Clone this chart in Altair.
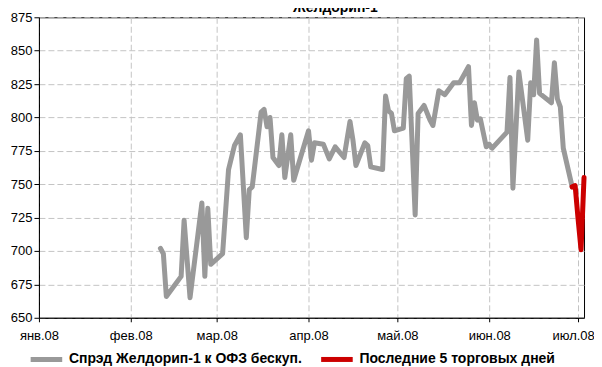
import json
import altair as alt
import pandas as pd

TITLE = "Желдорип-1"
SERIES_MAIN = "Спрэд Желдорип-1 к ОФЗ бескуп."
SERIES_LAST = "Последние 5 торговых дней"

main_dates = [
    "2008-02-11", "2008-02-12", "2008-02-13", "2008-02-18", "2008-02-19", "2008-02-21",
    "2008-02-25", "2008-02-26", "2008-02-27", "2008-02-28", "2008-03-03", "2008-03-05",
    "2008-03-07", "2008-03-09", "2008-03-11", "2008-03-12", "2008-03-13", "2008-03-16",
    "2008-03-17", "2008-03-18", "2008-03-19", "2008-03-20", "2008-03-22", "2008-03-23",
    "2008-03-24", "2008-03-26", "2008-03-27", "2008-04-01", "2008-04-02", "2008-04-03",
    "2008-04-06", "2008-04-08", "2008-04-10", "2008-04-13", "2008-04-15", "2008-04-16",
    "2008-04-17", "2008-04-20", "2008-04-21", "2008-04-22", "2008-04-26", "2008-04-27",
    "2008-04-28", "2008-04-29", "2008-04-30", "2008-05-03", "2008-05-04", "2008-05-05",
    "2008-05-07", "2008-05-08", "2008-05-10", "2008-05-12", "2008-05-13", "2008-05-15",
    "2008-05-17", "2008-05-19", "2008-05-20", "2008-05-22", "2008-05-25", "2008-05-26",
    "2008-05-27", "2008-05-28", "2008-05-29", "2008-05-31", "2008-06-01", "2008-06-02",
    "2008-06-07", "2008-06-08", "2008-06-09", "2008-06-11", "2008-06-14", "2008-06-15",
    "2008-06-16", "2008-06-17", "2008-06-18", "2008-06-22", "2008-06-23", "2008-06-24",
    "2008-06-25", "2008-06-26", "2008-06-29",
]
main_values = [
    702, 698, 666, 681, 723, 665,
    736, 681, 732, 690, 698, 761,
    779, 787, 710, 746, 748, 804,
    806, 793, 800, 770, 764, 787,
    755, 787, 753, 790, 768, 781,
    780, 769, 778, 770, 797, 783,
    764, 781, 779, 763, 761, 816,
    805, 803, 790, 792, 829, 831,
    727, 803, 809, 798, 794, 820,
    817, 823, 826, 826, 838, 794,
    811, 798, 799, 778, 780, 777,
    789, 830, 747, 834, 783, 826,
    817, 858, 818, 811, 841, 814,
    808, 777, 748,
]
last_dates = ["2008-06-29", "2008-06-30", "2008-07-01", "2008-07-02", "2008-07-03"]
last_values = [748, 749, 724, 701, 755]

month_labels = ["янв.08", "фев.08", "мар.08", "апр.08", "май.08", "июн.08", "июл.08"]
y_ticks = [650, 675, 700, 725, 750, 775, 800, 825, 850, 875]

df = pd.DataFrame({
    "date": main_dates + last_dates,
    "value": main_values + last_values,
    "series": [SERIES_MAIN] * len(main_dates) + [SERIES_LAST] * len(last_dates),
})

NARROW = "Liberation Sans Narrow, Arial Narrow, Liberation Sans, sans-serif"
BOLD = "Liberation Sans, Arial, sans-serif"

label_expr = json.dumps(month_labels, ensure_ascii=False) + "[utcmonth(datum.value)]"

x_enc = alt.X(
    "date:T",
    scale=alt.Scale(type="utc", domain=[alt.DateTime(year=2008, month=1, date=1, utc=True),
                                        alt.DateTime(year=2008, month=7, date=3, utc=True)]),
    axis=alt.Axis(
        title=None,
        values=[alt.DateTime(year=2008, month=m, date=1, utc=True) for m in range(1, 8)],
        labelExpr=label_expr,
        labelFont=NARROW, labelFontSize=13, labelColor="#000",
        labelPadding=8, tickSize=4, tickColor="#000", domainColor="#000",
        grid=True, gridColor="#c4c4c4", gridDash=[6, 3], labelOverlap=False,
        labelFlush=False,
        labelOffset={"expr": "utcmonth(datum.value) == 6 ? -5 : 0"},
    ),
)
y_enc = alt.Y(
    "value:Q",
    scale=alt.Scale(domain=[650, 875], nice=False, zero=False),
    axis=alt.Axis(
        title=None, values=y_ticks,
        labelFont=NARROW, labelFontSize=13, labelColor="#000",
        labelPadding=2, tickSize=5, tickColor="#000", domainColor="#000",
        grid=True, gridColor="#c4c4c4", gridDash=[6, 3],
    ),
)

lines = alt.Chart(df).mark_line(strokeWidth=5, strokeJoin="round", strokeCap="round").encode(
    x=x_enc,
    y=y_enc,
    color=alt.Color(
        "series:N",
        scale=alt.Scale(domain=[SERIES_MAIN, SERIES_LAST], range=["#999999", "#cc0000"]),
        legend=alt.Legend(
            title=None, orient="none", legendX=-11, legendY=324, direction="horizontal",
            symbolType="stroke", symbolSize=1000, symbolStrokeWidth=5,
            labelFont=BOLD, labelFontWeight="bold", labelFontSize=14, labelColor="#000",
            labelLimit=500, columnPadding=8, padding=0, labelOffset=4,
        ),
    ),
    detail="series:N",
)

title_df = pd.DataFrame({"t": [TITLE]})
title = alt.Chart(title_df).mark_text(
    font=BOLD, fontWeight="bold", fontSize=14, baseline="alphabetic", align="center", color="#000"
).encode(text="t:N", x=alt.value(297), y=alt.value(-5))

chart = alt.layer(lines, title).properties(
    width=546, height=301,
    autosize=alt.AutoSizeParams(type="none"),
    padding={"left": 31, "top": 9, "right": 10, "bottom": 49},
).configure_view(stroke="#000", strokeWidth=1)

chart.save("out.html", embed_options={"renderer": "svg", "actions": False})
